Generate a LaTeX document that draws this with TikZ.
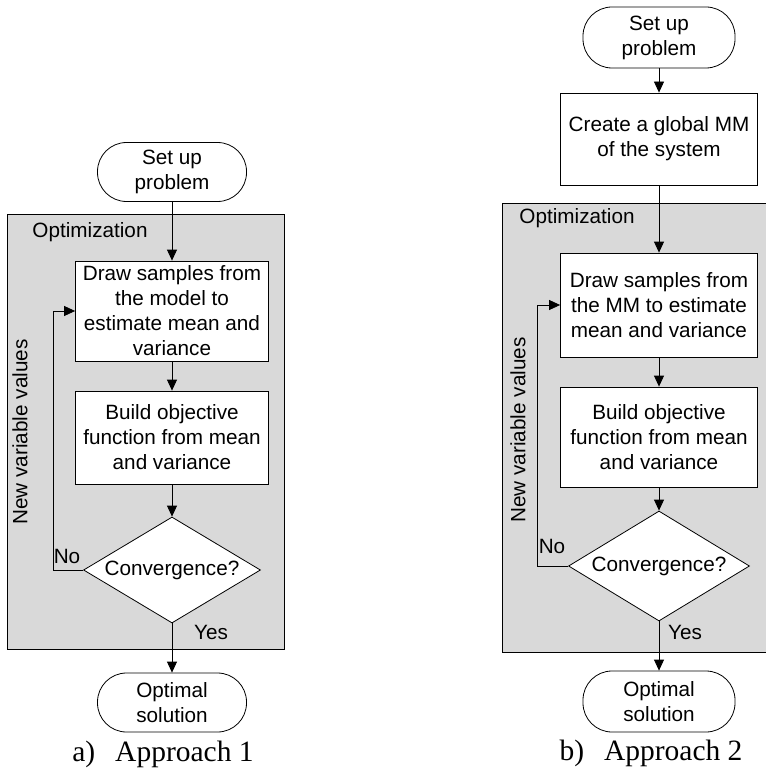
\documentclass[tikz,border=0pt]{standalone}
\usepackage{fontspec}
\setmainfont{Liberation Serif}
\newfontfamily\arial{Liberation Sans}
\usetikzlibrary{shapes.geometric,arrows.meta}
\definecolor{panelgray}{HTML}{D9D9D9}
\begin{document}
\begin{tikzpicture}[x=1pt,y=-1pt,
  lbl/.style={font=\arial\fontsize{20.7}{25}\selectfont},
  proc/.style={lbl, draw, fill=white, align=center, inner sep=0pt, line width=0.8pt},
  term/.style={proc, rounded corners=29pt},
  dec/.style={lbl, diamond, aspect=1.67, draw, fill=white, inner sep=0pt, line width=0.8pt},
  panel/.style={draw, fill=panelgray, line width=0.8pt},
  flow/.style={-{Triangle[length=11pt,width=10pt]}, line width=0.8pt},
  captxt/.style={font=\fontsize{29.5}{34}\selectfont}
]
\useasboundingbox (0,0) rectangle (765,770);

% ---------- a) Approach 1 ----------
\draw[panel] (7,214) rectangle (284,649);
\node[lbl] (opt1) at (90,232) {Optimization};
\node[lbl, rotate=90] (nv1) at (20,432) {New variable values};

\node[term, minimum width=149pt, minimum height=59pt] (s1) at (172,172) {Set up\\problem};
\node[proc, minimum width=193pt, minimum height=100pt] (d1) at (172,311)
  {Draw samples from\\the model to\\estimate mean and\\variance};
\node[proc, minimum width=193pt, minimum height=93pt] (b1) at (172,437.5)
  {Build objective\\function from mean\\and variance};
\node[dec, minimum width=177pt, minimum height=106pt] (c1) at (172,570) {Convergence?};
\node[term, minimum width=149pt, minimum height=59pt] (o1) at (172,702.5) {Optimal\\solution};

\draw[flow] (s1) -- (d1);
\draw[flow] (d1) -- (b1);
\draw[flow] (b1) -- (c1);
\draw[flow] (c1.south) -- (o1.north);
\draw[flow] (c1.west) -- ++(-30,0) |- (d1.west);
\node[lbl] (no1) at (67,556) {No};
\node[lbl] (yes1) at (211,632) {Yes};

\node[captxt] (cap1) at (163,754) {a)\hspace{20pt}Approach 1};

% ---------- b) Approach 2 ----------
% the panel runs on past the right edge of the page
\draw[panel] (502,203) rectangle (770,652);
\node[lbl] (opt2) at (577,218) {Optimization};
\node[lbl, rotate=90] (nv2) at (518,430) {New variable values};

\node[term, minimum width=152pt, minimum height=61pt] (s2) at (659,37.5) {Set up\\problem};
\node[proc, minimum width=197pt, minimum height=92pt] (m2) at (659,139)
  {Create a global MM\\of the system};
\node[proc, minimum width=197pt, minimum height=104pt] (d2) at (659,305)
  {Draw samples from\\the MM to estimate\\mean and variance};
\node[proc, minimum width=197pt, minimum height=100pt] (b2) at (659,437)
  {Build objective\\function from mean\\and variance};
\node[dec, minimum width=181pt, minimum height=110pt] (c2) at (659,566) {Convergence?};
\node[term, minimum width=152pt, minimum height=61pt] (o2) at (659,701.5) {Optimal\\solution};

\draw[flow] (s2) -- (m2);
\draw[flow] (m2) -- (d2);
\draw[flow] (d2) -- (b2);
\draw[flow] (b2) -- (c2);
\draw[flow] (c2.south) -- (o2.north);
\draw[flow] (c2.west) -- ++(-31,0) |- (d2.west);
\node[lbl] (no2) at (552,546) {No};
\node[lbl] (yes2) at (685,632) {Yes};

\node[captxt] (cap2) at (651,753) {b)\hspace{20pt}Approach 2};
\end{tikzpicture}
\end{document}
